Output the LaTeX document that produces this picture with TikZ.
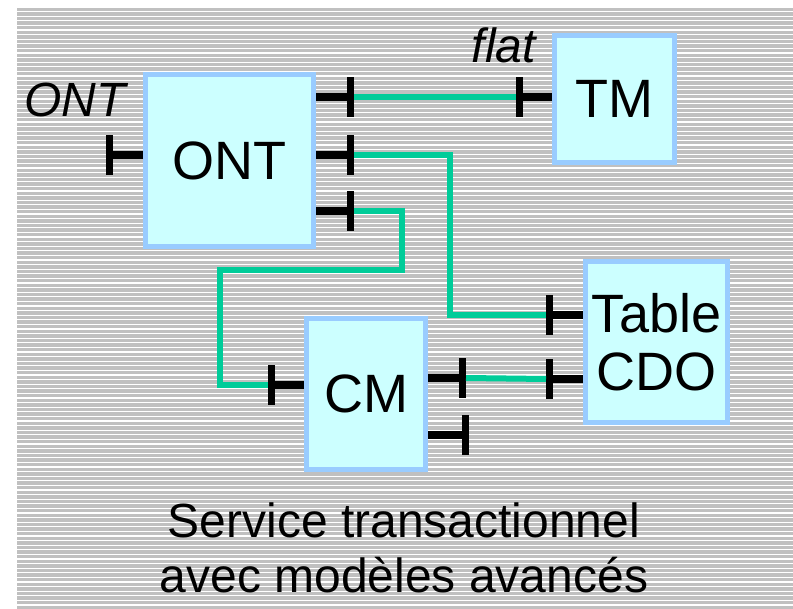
\documentclass[tikz,border=0pt]{standalone}
\usepackage{fontspec}
\setmainfont{Liberation Sans}
\definecolor{bggray}{HTML}{C0C0C0}
\definecolor{boxfill}{HTML}{CCFFFF}
\definecolor{boxborder}{HTML}{99CCFF}
\definecolor{wirecol}{HTML}{00CC99}
\begin{document}
\begin{tikzpicture}[x=1pt,y=-1pt,
  box/.style={draw=boxborder,line width=5pt,fill=boxfill,inner sep=0pt,
    font=\fontsize{54}{58}\selectfont,align=center},
  bar/.style={fill=black,inner sep=0pt,outer sep=0pt,minimum width=7pt,minimum height=40pt},
  stub/.style={draw=black,line width=8pt},
  wire/.style={draw=wirecol,line width=6pt},
  lab/.style={font=\fontsize{48}{48}\selectfont\itshape,anchor=base,inner sep=0pt}]
\useasboundingbox (0,0) rectangle (793,609);
\fill[bggray] (17,7) rectangle (793,609);
\foreach \i in {0,...,130} \draw[white,line width=1.2pt] (17,{7+\i*4.6}) -- (793,{7+\i*4.6});
% boxes
\node[box,minimum width=168pt,minimum height=172pt] (ont) at (229.5,160.5) {ONT};
\node[box,minimum width=120pt,minimum height=127pt] (tm) at (614.5,99) {TM};
\node[box,minimum width=142pt,minimum height=161pt] (cdo) at (656.5,342) {Table\\CDO};
\node[box,minimum width=119pt,minimum height=151pt] (cm) at (366,394) {\raisebox{-5pt}{CM}};
% port bars
\node[bar] (ontw) at (109.5,155) {};
\node[bar] (onte1) at (350.5,97) {};
\node[bar] (onte2) at (350.5,155) {};
\node[bar] (onte3) at (350.5,211) {};
\node[bar] (tmw) at (519,97) {};
\node[bar] (cdow1) at (549,315) {};
\node[bar] (cdow2) at (549.5,379) {};
\node[bar] (cmw) at (271.5,385.5) {};
\node[bar] (cme1) at (462.5,378) {};
\node[bar] (cme2) at (465.5,435) {};
% port stubs
\draw[stub] (ont.west |- ontw) -- (ontw.center);
\draw[stub] (ont.east |- onte1) -- (onte1.center);
\draw[stub] (ont.east |- onte2) -- (onte2.center);
\draw[stub] (ont.east |- onte3) -- (onte3.center);
\draw[stub] (tm.west |- tmw) -- (tmw.center);
\draw[stub] (cdo.west |- cdow1) -- (cdow1.center);
\draw[stub] (cdo.west |- cdow2) -- (cdow2.center);
\draw[stub] (cm.west |- cmw) -- (cmw.center);
\draw[stub] (cm.east |- cme1) -- (cme1.center);
\draw[stub] (cm.east |- cme2) -- (cme2.center);
% wires
\coordinate (w2) at (449.5,315);
\coordinate (w3a) at (401.5,270.5);
\coordinate (w3b) at (219.5,385.5);
\draw[wire] (onte1.east) -- (tmw.west);
\draw[wire] (onte2.east) -| (w2) -- (cdow1.west);
\draw[wire] (onte3.east) -| (w3a) -| (w3b) -- (cmw.west);
\draw[wire] (cme1.east) -- (cdow2.west);
% labels
\node[lab] (lont) at (75,117) {ONT};
\node[lab] (lflat) at (504,63) {flat};
\node[font=\fontsize{48}{55}\selectfont,align=center,anchor=base,inner sep=0pt] (caption) at (404,592) {Service transactionnel\\avec modèles avancés};
\end{tikzpicture}
\end{document}
